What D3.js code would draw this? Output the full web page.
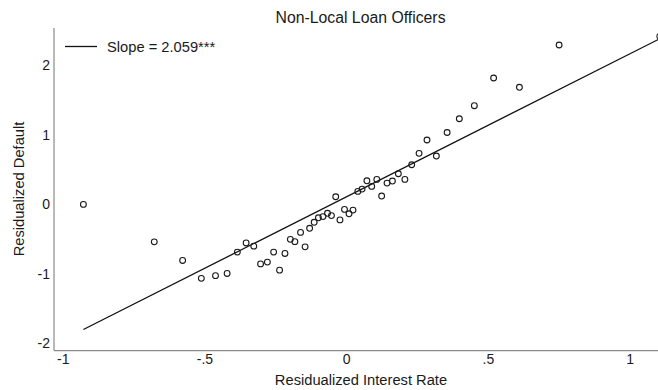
<!DOCTYPE html>
<html>
<head>
<meta charset="utf-8">
<script src="https://cdn.jsdelivr.net/npm/d3@7/dist/d3.min.js"></script>
<style>
  html, body { margin: 0; padding: 0; background: #fff; }
  svg { display: block; font-family: "Liberation Sans", Arial, Helvetica, sans-serif; }
</style>
</head>
<body>
<svg id="chart" width="658" height="390"></svg>
<script>
// Binned residualized interest rate (x) and residualized default (y)
const rateResid = [
  -0.927, -0.677, -0.577, -0.511, -0.461, -0.420, -0.384, -0.353, -0.326, -0.302,
  -0.278, -0.256, -0.235, -0.216, -0.197, -0.181, -0.161, -0.145, -0.129, -0.113,
  -0.098, -0.082, -0.066, -0.052, -0.037, -0.022, -0.006, 0.010, 0.024, 0.041,
  0.056, 0.073, 0.090, 0.108, 0.125, 0.144, 0.163, 0.184, 0.207, 0.231,
  0.257, 0.285, 0.318, 0.356, 0.399, 0.452, 0.520, 0.611, 0.751, 1.106
];
const defaultResid = [
  0.000, -0.539, -0.807, -1.065, -1.026, -0.994, -0.687, -0.555, -0.601, -0.857,
  -0.831, -0.687, -0.947, -0.706, -0.503, -0.536, -0.403, -0.611, -0.344, -0.258,
  -0.193, -0.176, -0.128, -0.161, 0.110, -0.223, -0.072, -0.135, -0.082, 0.187,
  0.220, 0.340, 0.259, 0.360, 0.120, 0.307, 0.336, 0.441, 0.360, 0.571,
  0.735, 0.927, 0.696, 1.035, 1.233, 1.421, 1.820, 1.686, 2.295, 2.420
];

// Fitted line
const slope = 2.059;
const intercept = 0.108;

const xTickValues = [-1, -0.5, 0, 0.5, 1];
const xTickLabels = ["-1", "-.5", "0", ".5", "1"];
const yTickValues = [-2, -1, 0, 1, 2];
const yTickLabels = ["-2", "-1", "0", "1", "2"];

const titleText = "Non-Local Loan Officers";
const xTitle = "Residualized Interest Rate";
const yTitle = "Residualized Default";
const legendText = "Slope = 2.059***";

const svg = d3.select("#chart");

const plotLeft = 54, plotTop = 28, plotBottom = 350.7;

const x = d3.scaleLinear().domain([-1, 1]).range([62.7, 629.7]);
const y = d3.scaleLinear().domain([-2, 2]).range([343.3, 65.5]);

const axisColor = "#8a8a8a";
const textColor = "#1a1a1a";
const tickFont = "14px";
const labelFont = "14.7px";

// Axis lines
svg.append("line")
  .attr("x1", plotLeft).attr("x2", plotLeft)
  .attr("y1", plotTop).attr("y2", plotBottom)
  .attr("stroke", axisColor).attr("stroke-width", 1.2);
svg.append("line")
  .attr("x1", plotLeft).attr("x2", 660)
  .attr("y1", plotBottom).attr("y2", plotBottom)
  .attr("stroke", axisColor).attr("stroke-width", 1.2);

// Axes built with d3 axis generators (tick marks hidden)
const xAxis = d3.axisBottom(x)
  .tickValues(xTickValues)
  .tickFormat((d, i) => xTickLabels[i])
  .tickSize(0).tickPadding(3);
const gx = svg.append("g")
  .attr("transform", `translate(0,${plotBottom})`)
  .call(xAxis);
gx.select(".domain").remove();
gx.selectAll("text")
  .attr("fill", textColor)
  .style("font-size", tickFont)
  .style("font-family", "Liberation Sans, Arial, sans-serif");

const yAxis = d3.axisLeft(y)
  .tickValues(yTickValues)
  .tickFormat((d, i) => yTickLabels[i])
  .tickSize(0).tickPadding(4);
const gy = svg.append("g")
  .attr("transform", `translate(${plotLeft},0)`)
  .call(yAxis);
gy.select(".domain").remove();
gy.selectAll("text")
  .attr("fill", textColor)
  .style("font-size", tickFont)
  .style("font-family", "Liberation Sans, Arial, sans-serif");

// Clip marks to the plot region
svg.append("clipPath").attr("id", "plotClip")
  .append("rect")
  .attr("x", plotLeft).attr("y", 0)
  .attr("width", 700).attr("height", plotBottom);

const marks = svg.append("g").attr("clip-path", "url(#plotClip)");

// Fitted regression line from min to max x
const xMin = d3.min(rateResid), xMax = d3.max(rateResid);
marks.append("line")
  .attr("x1", x(xMin)).attr("y1", y(intercept + slope * xMin))
  .attr("x2", x(xMax)).attr("y2", y(intercept + slope * xMax))
  .attr("stroke", "#111").attr("stroke-width", 1.3);

// Binned scatter points (hollow circles)
marks.selectAll("circle.pt")
  .data(d3.range(rateResid.length))
  .join("circle")
  .attr("class", "pt")
  .attr("cx", i => x(rateResid[i]))
  .attr("cy", i => y(defaultResid[i]))
  .attr("r", 2.9)
  .attr("fill", "none")
  .attr("stroke", "#1a1a1a")
  .attr("stroke-width", 1.1);

// Legend
svg.append("line")
  .attr("x1", 65).attr("x2", 97)
  .attr("y1", 46.5).attr("y2", 46.5)
  .attr("stroke", "#111").attr("stroke-width", 1.3);
svg.append("text")
  .attr("x", 107).attr("y", 52)
  .attr("fill", textColor)
  .style("font-size", labelFont)
  .text(legendText);

// Title
svg.append("text")
  .attr("x", 360.5).attr("y", 22.5)
  .attr("text-anchor", "middle")
  .attr("fill", textColor)
  .style("font-size", "15.8px")
  .text(titleText);

// Axis titles
svg.append("text")
  .attr("x", 361).attr("y", 385)
  .attr("text-anchor", "middle")
  .attr("fill", textColor)
  .style("font-size", labelFont)
  .text(xTitle);

svg.append("text")
  .attr("transform", `translate(24,189) rotate(-90)`)
  .attr("text-anchor", "middle")
  .attr("fill", textColor)
  .style("font-size", labelFont)
  .text(yTitle);
</script>
</body>
</html>
